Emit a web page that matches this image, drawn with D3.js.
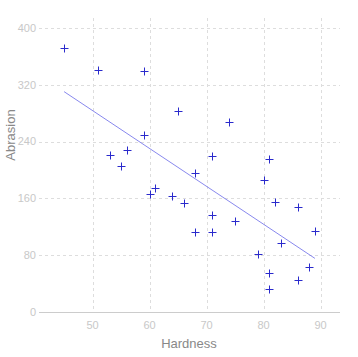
<!DOCTYPE html>
<html><head><meta charset="utf-8">
<script src="https://cdn.jsdelivr.net/npm/d3@7"></script>
<style>body{margin:0;background:#fff}svg{display:block;font-family:"Liberation Sans",Arial,sans-serif}</style>
</head><body><svg id="c" width="358" height="357"></svg>
<script>
const hardness = [45,55,61,66,71,71,81,86,53,60,64,68,79,81,56,68,75,83,88,59,71,80,82,89,51,59,65,74,81,86];
const abrasion = [372,206,175,154,136,112,55,45,221,166,164,113,82,32,228,196,128,97,64,249,219,186,155,114,341,340,283,267,215,148];
const fitX = [45, 89];
const fitY = [310.3, 75.5];
const xTicks = [50,60,70,80,90];
const yTicks = [0,80,160,240,320,400];

const svg = d3.select("#c");
const L = 39, R = 340, T = 18, B = 312;
const x = d3.scaleLinear().domain([40.6, 93.4]).range([L, R]);
const y = d3.scaleLinear().domain([0, 414]).range([B, T]);

// grid
svg.append("g").selectAll("line").data(yTicks.filter(d=>d>0)).join("line")
  .attr("x1", L).attr("x2", R).attr("y1", d=>Math.round(y(d))+0.5).attr("y2", d=>Math.round(y(d))+0.5)
  .attr("stroke", "#ddd").attr("stroke-dasharray", "3,3");
svg.append("g").selectAll("line").data(xTicks).join("line")
  .attr("x1", d=>Math.round(x(d))+0.5).attr("x2", d=>Math.round(x(d))+0.5).attr("y1", T).attr("y2", B)
  .attr("stroke", "#ddd").attr("stroke-dasharray", "3,3");
svg.append("line").attr("x1", L).attr("x2", R).attr("y1", B+0.5).attr("y2", B+0.5).attr("stroke", "#ccc");

// tick labels
svg.append("g").selectAll("text").data(yTicks).join("text")
  .attr("x", 36).attr("y", d=>y(d)).attr("dy", "0.35em").attr("text-anchor", "end")
  .attr("font-size", 11).attr("fill", "#c8c8c8").text(d=>d);
svg.append("g").selectAll("text").data(xTicks).join("text")
  .attr("x", d=>x(d)).attr("y", 329).attr("text-anchor", "middle")
  .attr("font-size", 11).attr("fill", "#c8c8c8").text(d=>d);

// titles
svg.append("text").attr("x", 189).attr("y", 348).attr("text-anchor", "middle")
  .attr("font-size", 13).attr("fill", "#888").text("Hardness");
svg.append("text").attr("transform", "translate(15,135) rotate(-90)").attr("text-anchor", "middle")
  .attr("font-size", 13).attr("fill", "#888").text("Abrasion");

// fit line
svg.append("line").attr("x1", x(fitX[0])).attr("y1", y(fitY[0])).attr("x2", x(fitX[1])).attr("y2", y(fitY[1]))
  .attr("stroke", "#6a6ae8").attr("stroke-width", 0.8);

// points
svg.append("g").selectAll("path").data(hardness.map((h,i)=>[h, abrasion[i]])).join("path")
  .attr("d", d=>{const px=Math.round(x(d[0]))+0.5, py=Math.round(y(d[1]))+0.5;
    return `M${px-4},${py}H${px+4}M${px},${py-4}V${py+4}`;})
  .attr("stroke", "#2a2acc").attr("stroke-width", 1).attr("fill", "none");
</script></body></html>
